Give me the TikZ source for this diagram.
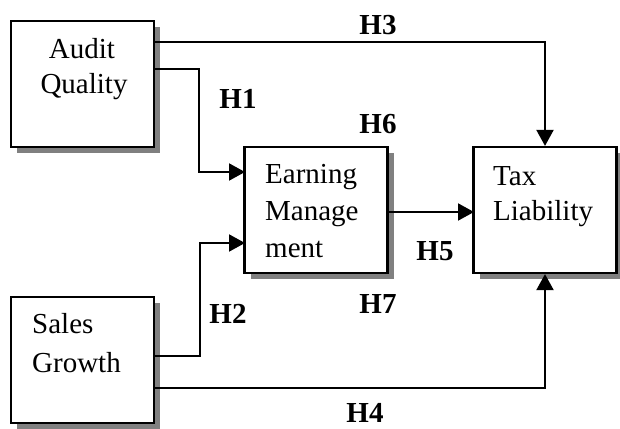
\documentclass[tikz,border=0pt]{standalone}
\usepackage{fontspec}
\setmainfont{Liberation Serif}
\usetikzlibrary{arrows.meta,shadows}
\begin{document}
\begin{tikzpicture}[x=1pt,y=-1pt,
  box/.style={draw=black, line width=2.2pt, fill=white, minimum width=143pt, minimum height=126pt, inner sep=0pt,
    drop shadow={shadow xshift=6pt, shadow yshift=-6pt, fill=black!50, opacity=1}},
  txt/.style={font=\fontsize{29}{35}\selectfont, inner sep=0pt},
  hyp/.style={font=\fontsize{29}{35}\selectfont\bfseries, inner sep=0pt, anchor=base},
  conn/.style={line width=2pt, -{Triangle[length=16pt,width=17pt]}}]
\useasboundingbox (0,0) rectangle (620,428);
% boxes
\node[box] (aq) at (82.5,84) {};
\node[box] (em) at (316,210) {};
\node[box] (tax) at (545,210) {};
\node[box] (sg) at (82.5,360) {};
% box texts
\node[txt, anchor=base] (aq1) at (82,58) {Audit};
\node[txt, anchor=base] (aq2) at (84,93) {Quality};
\node[txt, anchor=base west] (em1) at (265,183) {Earning};
\node[txt, anchor=base west] (em2) at (265,220) {Manage};
\node[txt, anchor=base west] (em3) at (265,257) {ment};
\node[txt, anchor=base west] (tx1) at (493,185) {Tax};
\node[txt, anchor=base west] (tx2) at (493,220) {Liability};
\node[txt, anchor=base west] (sg1) at (32,333) {Sales};
\node[txt, anchor=base west] (sg2) at (32,372) {Growth};
% connector points
\coordinate (a3) at (154,42);
\coordinate (a1) at (154,69);
\coordinate (b1) at (199,172);
\coordinate (e1) at (245,172);
\coordinate (s2) at (154,356);
\coordinate (b2) at (200,243);
\coordinate (e2) at (245,243);
\coordinate (s4) at (154,388);
\coordinate (m5) at (387,212);
\coordinate (t5) at (474,212);
% connectors
\draw[conn] (a3) -| (tax.north);
\draw[conn] (a1) -| (b1) -- (e1);
\draw[conn] (s2) -| (b2) -- (e2);
\draw[conn] (s4) -| (tax.south);
\draw[conn] (m5) -- (t5);
% labels
\node[hyp] (h3) at (378,35) {H3};
\node[hyp] (h1) at (238,108) {H1};
\node[hyp] (h6) at (378,133) {H6};
\node[hyp] (h5) at (435,260) {H5};
\node[hyp] (h2) at (228,323) {H2};
\node[hyp] (h7) at (378,313) {H7};
\node[hyp] (h4) at (365,422) {H4};
\end{tikzpicture}
\end{document}
